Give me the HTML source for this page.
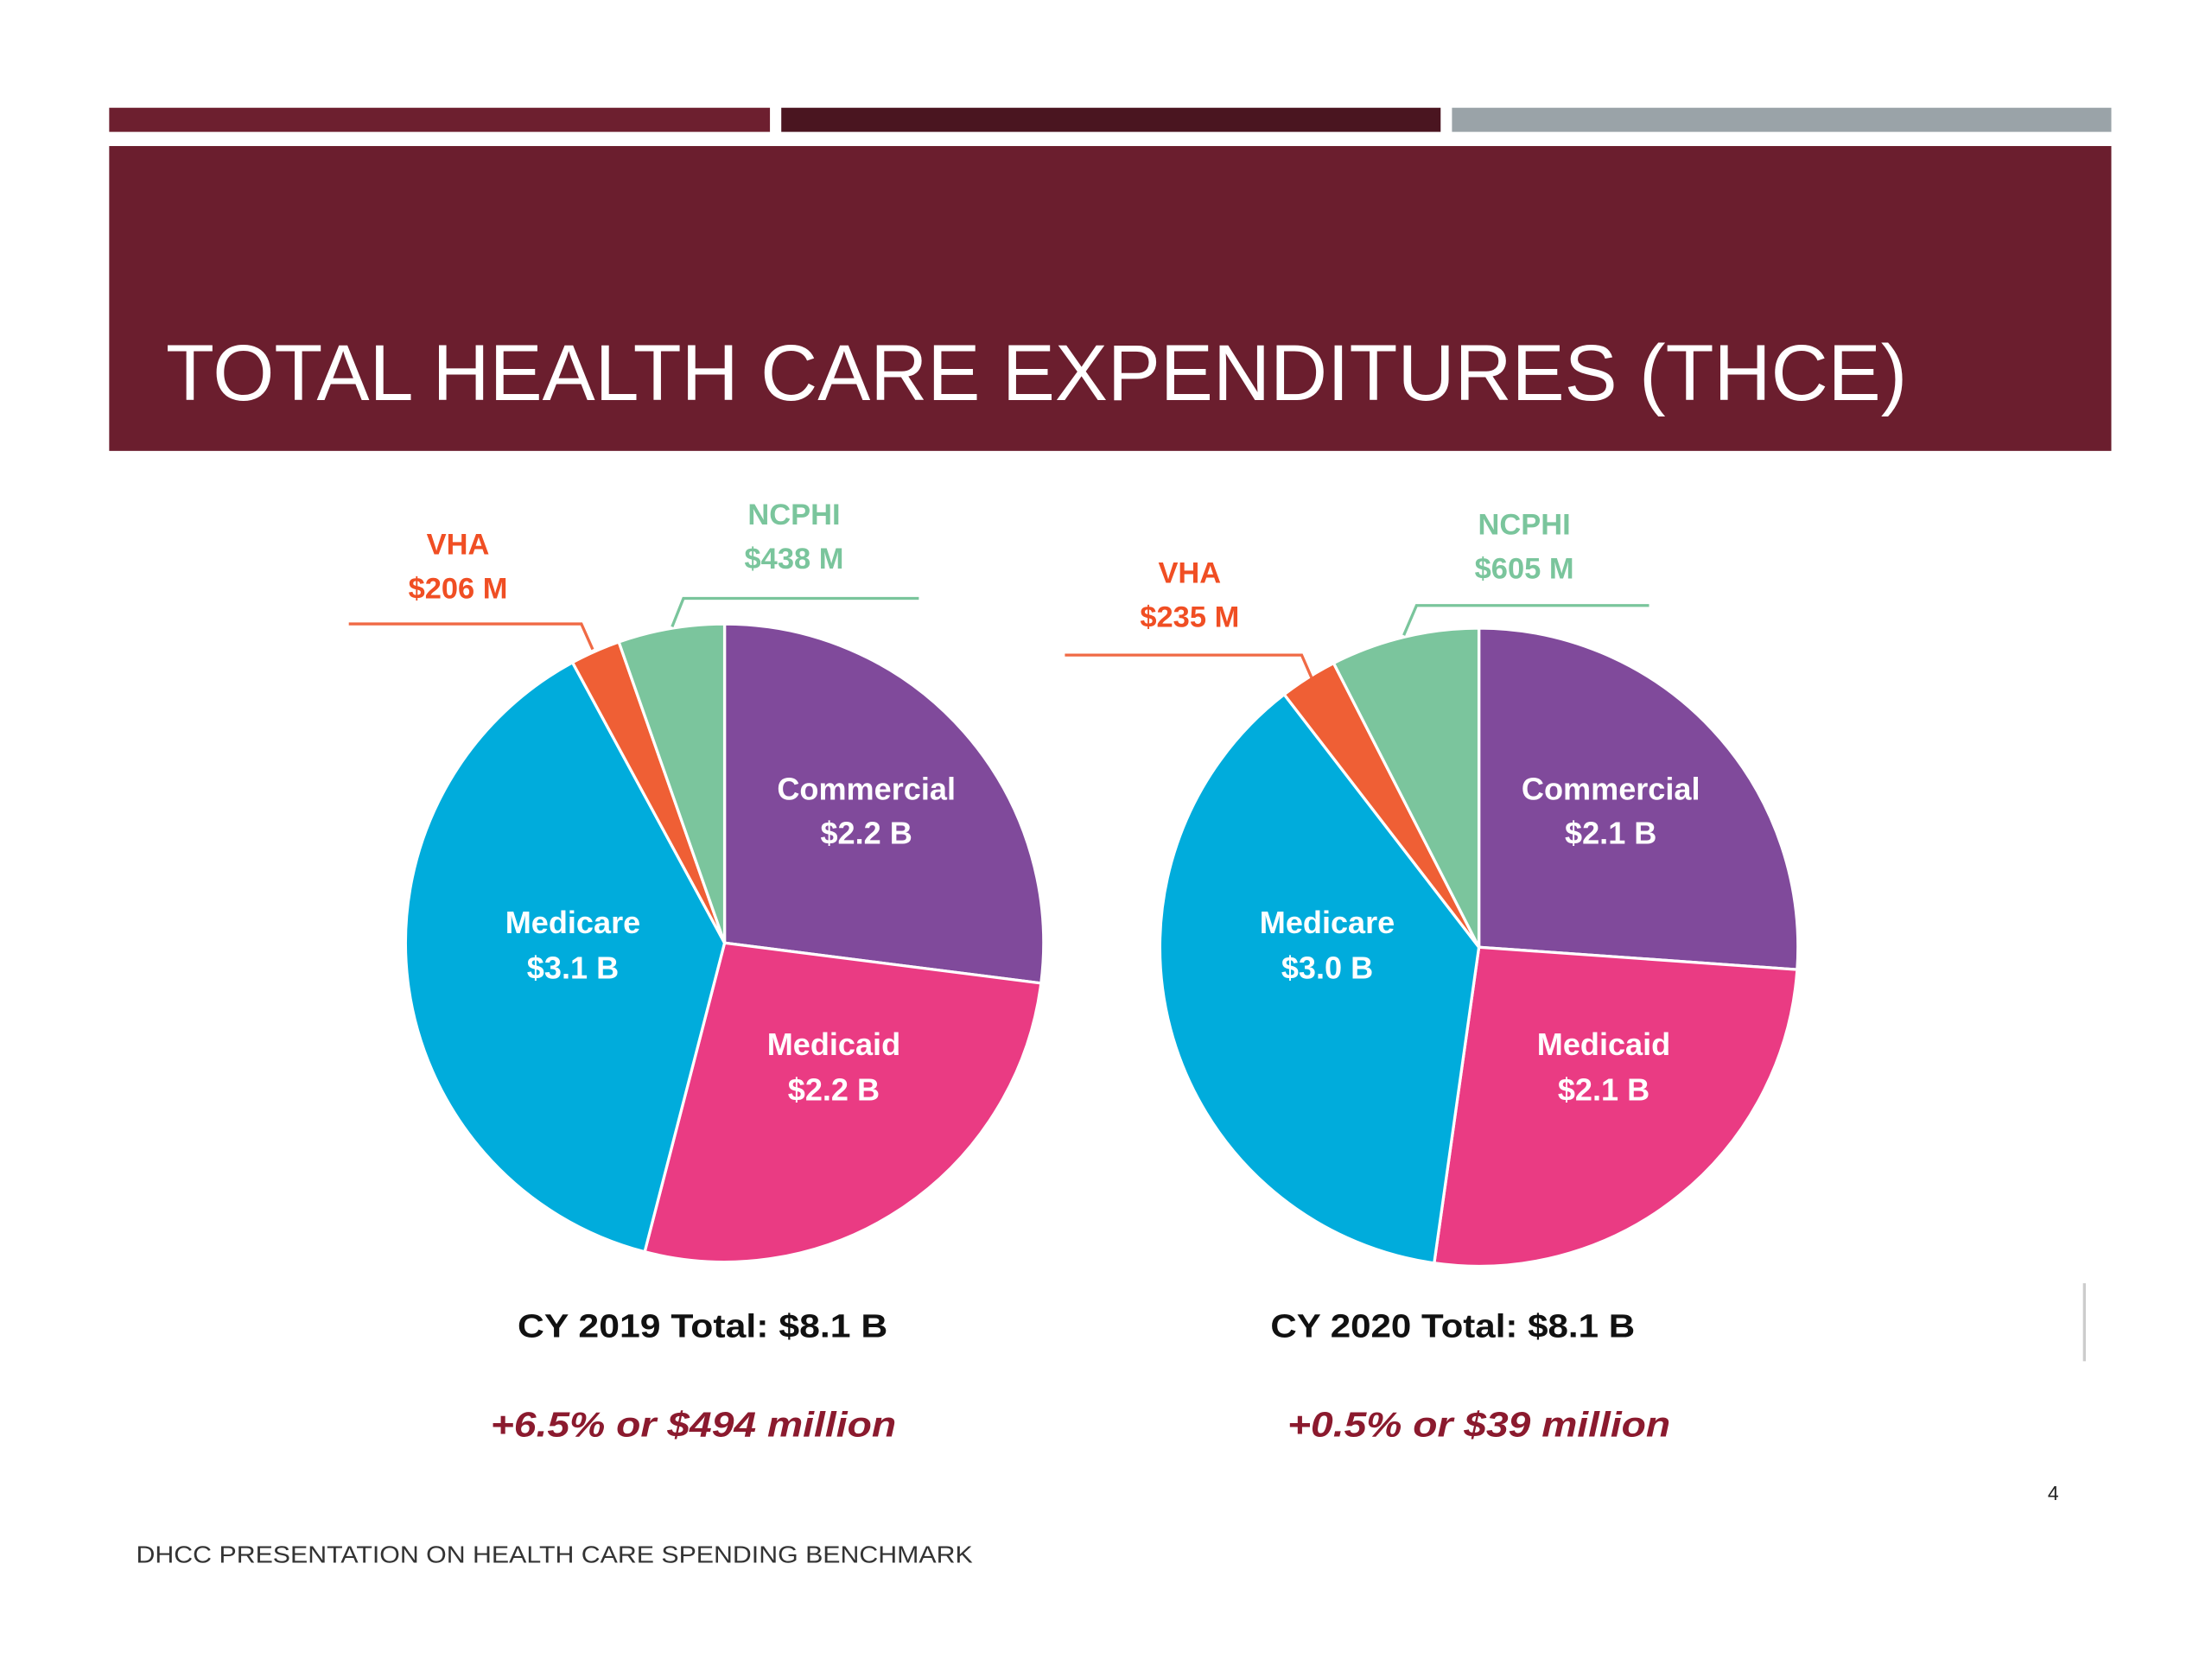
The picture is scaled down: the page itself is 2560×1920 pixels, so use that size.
<!DOCTYPE html>
<html><head><meta charset="utf-8"><style>
html,body{margin:0;padding:0;background:#fff;}
svg{display:block;}
</style></head><body>
<svg id="slide" width="2560" height="1920" viewBox="0 0 1560 1170" preserveAspectRatio="none" xmlns="http://www.w3.org/2000/svg">
<rect x="0" y="0" width="1560" height="1170" fill="#fff"/>
<rect x="77" y="76" width="466" height="17" fill="#6d1f2f"/>
<rect x="551" y="76" width="465" height="17" fill="#4a1520"/>
<rect x="1024" y="76" width="465" height="17" fill="#9aa3a8"/>
<rect x="77" y="103" width="1412" height="215" fill="#6b1e2e"/>
<text x="117" y="282" fill="#fff" font-family="Liberation Sans, sans-serif" font-size="56" textLength="1228" lengthAdjust="spacingAndGlyphs">TOTAL HEALTH CARE EXPENDITURES (THCE)</text>
<g id="pies"></g>
<g font-family="Liberation Sans, sans-serif" font-weight="bold" text-anchor="middle">
<text fill="#f04e23" font-size="21" x="323" y="391">VHA</text>
<text fill="#f04e23" font-size="21" x="323" y="422">$206 M</text>
<text fill="#7ac59c" font-size="21" x="560" y="370">NCPHI</text>
<text fill="#7ac59c" font-size="21" x="560" y="401">$438 M</text>
<text fill="#f04e23" font-size="21" x="839" y="411">VHA</text>
<text fill="#f04e23" font-size="21" x="839" y="442">$235 M</text>
<text fill="#7ac59c" font-size="21" x="1075" y="377">NCPHI</text>
<text fill="#7ac59c" font-size="21" x="1075" y="408">$605 M</text>
</g>
<g fill="none" stroke-width="2">
<polyline stroke="#f06a45" points="246,440 410,440 418,458"/>
<polyline stroke="#7ac59c" points="648,422 482,422 474,442"/>
<polyline stroke="#f06a45" points="751,462 918,462 925,478"/>
<polyline stroke="#7ac59c" points="1163,427 999,427 990,448"/>
</g>
<g font-family="Liberation Sans, sans-serif" font-weight="bold" fill="#fff" font-size="22" text-anchor="middle">
<text x="611" y="564">Commercial</text>
<text x="611" y="595">$2.2 B</text>
<text x="404" y="658">Medicare</text>
<text x="404" y="690">$3.1 B</text>
<text x="588" y="744">Medicaid</text>
<text x="588" y="776">$2.2 B</text>
<text x="1136" y="564">Commercial</text>
<text x="1136" y="595">$2.1 B</text>
<text x="936" y="658">Medicare</text>
<text x="936" y="690">$3.0 B</text>
<text x="1131" y="744">Medicaid</text>
<text x="1131" y="776">$2.1 B</text>
</g>
<g font-family="Liberation Sans, sans-serif" font-weight="bold">
<text x="365" y="943" font-size="23" fill="#111" textLength="261" lengthAdjust="spacingAndGlyphs">CY 2019 Total: $8.1 B</text>
<text x="896" y="943" font-size="23" fill="#111" textLength="257" lengthAdjust="spacingAndGlyphs">CY 2020 Total: $8.1 B</text>
<text x="346" y="1013" font-size="25" font-style="italic" fill="#8b1a2e" textLength="286" lengthAdjust="spacingAndGlyphs">+6.5% or $494 million</text>
<text x="908" y="1013" font-size="25" font-style="italic" fill="#8b1a2e" textLength="270" lengthAdjust="spacingAndGlyphs">+0.5% or $39 million</text>
</g>
<line x1="1470" y1="905" x2="1470" y2="960" stroke="#ccc" stroke-width="2"/>
<text x="1448" y="1058" font-family="Liberation Sans, sans-serif" font-size="14" text-anchor="middle" fill="#222">4</text>
<text x="96" y="1102" font-family="Liberation Sans, sans-serif" font-size="17" fill="#333" textLength="590" lengthAdjust="spacingAndGlyphs">DHCC PRESENTATION ON HEALTH CARE SPENDING BENCHMARK</text>
</svg>
<script>
const categories = ["Commercial","Medicaid","Medicare","VHA","NCPHI"];
const values2019 = [2.2, 2.2, 3.1, 0.206, 0.438];
const values2020 = [2.1, 2.1, 3.0, 0.235, 0.605];
const sliceColors = ["#804a9b","#ea3b83","#00acdc","#ef5f35","#7bc59d"];
const NS = "http://www.w3.org/2000/svg";
function drawPie(vals, cx, cy, r, year){
  const g = document.getElementById('pies');
  const total = vals.reduce((a,b)=>a+b,0);
  let a0 = 0;
  vals.forEach((v,i)=>{
    const a1 = a0 + v/total*2*Math.PI;
    const x0 = cx + r*Math.sin(a0), y0 = cy - r*Math.cos(a0);
    const x1 = cx + r*Math.sin(a1), y1 = cy - r*Math.cos(a1);
    const large = (a1-a0) > Math.PI ? 1 : 0;
    const p = document.createElementNS(NS,'path');
    p.setAttribute('d',`M${cx},${cy} L${x0},${y0} A${r},${r} 0 ${large} 1 ${x1},${y1} Z`);
    p.setAttribute('fill',sliceColors[i]);
    p.setAttribute('stroke','#fff');
    p.setAttribute('stroke-width','2');
    
    
    g.appendChild(p);
    a0 = a1;
  });
}
drawPie(values2019, 511, 665, 225, '2019');
drawPie(values2020, 1043, 668, 225, '2020');
</script>
</body></html>
